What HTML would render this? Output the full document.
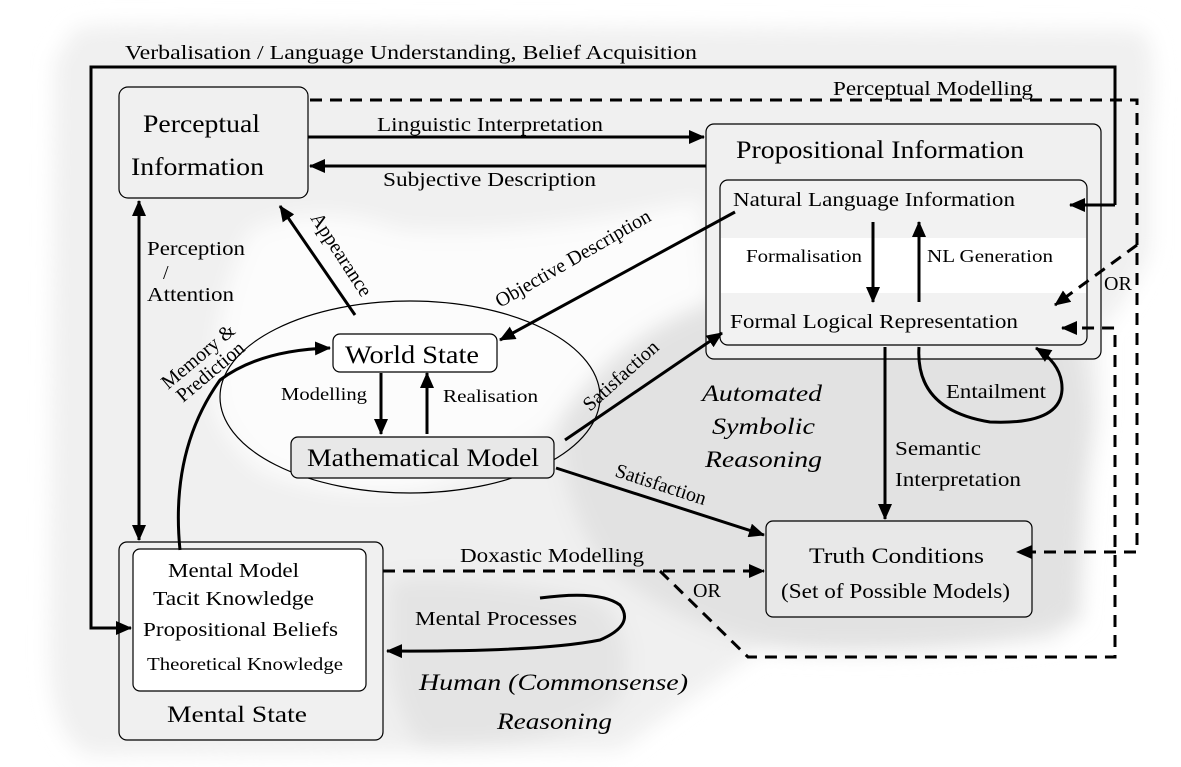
<!DOCTYPE html>
<html><head><meta charset="utf-8"><style>
html,body{margin:0;padding:0;background:#fff;}
svg{display:block;}
text{font-family:"Liberation Serif","DejaVu Serif",serif;}
</style></head><body>
<svg width="1181" height="767" viewBox="0 0 1181 767" xmlns="http://www.w3.org/2000/svg" font-family="Liberation Serif, DejaVu Serif, serif">
<defs>
<marker id="b" markerWidth="16" markerHeight="14" refX="15" refY="7" orient="auto" markerUnits="userSpaceOnUse" viewBox="0 0 16 14"><path d="M0,0 L16,7 L0,14 z" fill="#000"/></marker>
<filter id="blur"><feGaussianBlur stdDeviation="10"/></filter>
</defs>
<g filter="url(#blur)">
<path d="M70,40 Q60,25 120,25 L1140,30 Q1160,40 1150,140 L1150,250 Q1130,300 1100,330 L1100,420 Q1090,470 1080,520 L1060,640 Q900,660 760,650 Q660,720 620,750 L90,755 Q50,740 50,650 L55,60 Z" fill="#f0f0f0"/>
<path d="M250,230 Q320,200 400,230 Q520,240 700,200 L710,300 Q620,360 560,420 Q500,470 420,490 Q330,500 260,470 Q200,420 215,360 Q220,290 250,230 Z" fill="#fcfcfc"/>
<path d="M560,420 Q620,330 720,300 L1050,300 Q1085,330 1090,420 L1080,620 Q1000,650 830,650 Q700,650 600,560 Q560,500 560,420 Z" fill="#e2e2e2"/>
<path d="M390,580 Q460,570 600,600 Q640,640 620,700 Q560,750 420,745 Q380,700 390,580 Z" fill="#e4e4e4"/>
</g>
<g fill="none" stroke="#000">
<rect x="119" y="87" width="189" height="111" rx="9" fill="#f0f0f0" stroke-width="1.2"/>
<rect x="706" y="124" width="395" height="235" rx="8" fill="#f0f0f0" stroke-width="1.2"/>
<rect x="720" y="180" width="367" height="165" rx="8" fill="#f2f2f2" stroke-width="1.2"/>
<rect x="721" y="238" width="365" height="55" fill="#fff" stroke="none"/>
<ellipse cx="410" cy="397" rx="190" ry="96" stroke-width="1.2"/>
<rect x="333" y="334" width="164" height="38" rx="7" fill="#fff" stroke-width="1.2"/>
<rect x="291" y="437" width="263" height="41" rx="7" fill="#e8e8e8" stroke-width="1.2"/>
<rect x="766" y="521" width="266" height="96" rx="7" fill="#e8e8e8" stroke-width="1.2"/>
<rect x="119" y="542" width="264" height="198" rx="8" fill="#f0f0f0" stroke-width="1.2"/>
<rect x="133" y="549" width="233" height="142" rx="7" fill="#fff" stroke-width="1.2"/>
<g stroke-width="3">
<path d="M1115,205 L1115,67 L91,67 L91,628 L131,628" marker-end="url(#b)"/>
<path d="M1115,205 L1070,205" marker-end="url(#b)"/>
<path d="M308,137 L704,137" marker-end="url(#b)"/>
<path d="M706,166 L310,166" marker-end="url(#b)"/>
<path d="M139,350 L139,201" marker-end="url(#b)"/>
<path d="M139,350 L139,540" marker-end="url(#b)"/>
<path d="M355,315 L280,206" marker-end="url(#b)"/>
<path d="M735,212 L500,340" marker-end="url(#b)"/>
<path d="M873,222 L873,302" marker-end="url(#b)"/>
<path d="M919,302 L919,222" marker-end="url(#b)"/>
<path d="M381,373 L381,434" marker-end="url(#b)"/>
<path d="M427,434 L427,373" marker-end="url(#b)"/>
<path d="M565,440 L722,333" marker-end="url(#b)"/>
<path d="M556,468 L764,535" marker-end="url(#b)"/>
<path d="M885,347 L885,519" marker-end="url(#b)"/>
<path d="M919,347 Q915,410 990,422 Q1060,425 1062,390 Q1063,365 1036,348" marker-end="url(#b)"/>
<path d="M180,550 Q170,450 220,380 Q260,350 330,348" marker-end="url(#b)"/>
<path d="M540,598 Q600,590 620,605 Q635,625 600,640 Q540,652 387,651" marker-end="url(#b)"/>
</g>
<g stroke-width="3" stroke-dasharray="12,8">
<path d="M310,100 L1137,100 L1137,552 L1017,552" marker-end="url(#b)"/>
<path d="M1137,245 L1055,305" marker-end="url(#b)"/>
<path d="M660,571 L748,657 L1115,657 L1115,328 L1062,328" marker-end="url(#b)"/>
<path d="M383,571 L764,571" marker-end="url(#b)"/>
</g>
</g>
<g font-size="20" fill="#000" lengthAdjust="spacingAndGlyphs">
<text x="125" y="59" textLength="572" lengthAdjust="spacingAndGlyphs">Verbalisation  /  Language Understanding, Belief Acquisition</text>
<text x="833" y="95" textLength="200" lengthAdjust="spacingAndGlyphs">Perceptual Modelling</text>
<text x="377" y="131" textLength="226" lengthAdjust="spacingAndGlyphs">Linguistic Interpretation</text>
<text x="383" y="186" textLength="213" lengthAdjust="spacingAndGlyphs">Subjective Description</text>
<text x="147" y="255" textLength="98" lengthAdjust="spacingAndGlyphs">Perception</text>
<text x="163" y="279">/</text>
<text x="147" y="301" textLength="87" lengthAdjust="spacingAndGlyphs">Attention</text>
<text x="1104" y="290">OR</text>
<text x="460" y="562" textLength="184" lengthAdjust="spacingAndGlyphs">Doxastic Modelling</text>
<text x="693" y="597">OR</text>
<text x="415" y="625" textLength="162" lengthAdjust="spacingAndGlyphs">Mental Processes</text>
<text x="946" y="398" textLength="100" lengthAdjust="spacingAndGlyphs">Entailment</text>
<text x="895" y="455" textLength="86" lengthAdjust="spacingAndGlyphs">Semantic</text>
<text x="895" y="486" textLength="126" lengthAdjust="spacingAndGlyphs">Interpretation</text>
<text x="281" y="400" font-size="18" textLength="86" lengthAdjust="spacingAndGlyphs">Modelling</text>
<text x="443" y="402" font-size="18" textLength="95" lengthAdjust="spacingAndGlyphs">Realisation</text>
<text x="733" y="206" textLength="282" lengthAdjust="spacingAndGlyphs">Natural Language Information</text>
<text x="746" y="262" font-size="18" textLength="116" lengthAdjust="spacingAndGlyphs">Formalisation</text>
<text x="927" y="262" font-size="18" textLength="126" lengthAdjust="spacingAndGlyphs">NL Generation</text>
<text x="730" y="328" textLength="288" lengthAdjust="spacingAndGlyphs">Formal Logical Representation</text>
<text x="168" y="577" textLength="131" lengthAdjust="spacingAndGlyphs">Mental Model</text>
<text x="153" y="605" textLength="161" lengthAdjust="spacingAndGlyphs">Tacit Knowledge</text>
<text x="143" y="636" textLength="195" lengthAdjust="spacingAndGlyphs">Propositional Beliefs</text>
<text x="147" y="670" font-size="18" textLength="196" lengthAdjust="spacingAndGlyphs">Theoretical Knowledge</text>
</g>
<g font-size="25" fill="#000">
<text x="143" y="132" textLength="117" lengthAdjust="spacingAndGlyphs">Perceptual</text>
<text x="131" y="175" textLength="133" lengthAdjust="spacingAndGlyphs">Information</text>
<text x="736" y="158" textLength="288" lengthAdjust="spacingAndGlyphs">Propositional Information</text>
<text x="345" y="363" textLength="134" lengthAdjust="spacingAndGlyphs">World State</text>
<text x="307" y="466" textLength="232" lengthAdjust="spacingAndGlyphs">Mathematical Model</text>
<text x="809" y="563" font-size="22" textLength="175" lengthAdjust="spacingAndGlyphs">Truth Conditions</text>
<text x="781" y="598" font-size="21" textLength="229" lengthAdjust="spacingAndGlyphs">(Set of Possible Models)</text>
<text x="167" y="722" font-size="23" textLength="140" lengthAdjust="spacingAndGlyphs">Mental State</text>
</g>
<g font-size="23" font-style="italic" fill="#000">
<text x="702" y="401" textLength="120" lengthAdjust="spacingAndGlyphs">Automated</text>
<text x="712" y="434" textLength="103" lengthAdjust="spacingAndGlyphs">Symbolic</text>
<text x="705" y="467" textLength="117" lengthAdjust="spacingAndGlyphs">Reasoning</text>
<text x="419" y="690" textLength="269" lengthAdjust="spacingAndGlyphs">Human (Commonsense)</text>
<text x="497" y="729" textLength="115" lengthAdjust="spacingAndGlyphs">Reasoning</text>
</g>
<g font-size="20" fill="#000">
<text transform="translate(310,218) rotate(57)">Appearance</text>
<text transform="translate(500,308) rotate(-30)">Objective Description</text>
<text transform="translate(168,390) rotate(-40)">Memory &amp;</text>
<text transform="translate(183,403) rotate(-40)">Prediction</text>
<text transform="translate(590,412) rotate(-42)">Satisfaction</text>
<text transform="translate(614,476) rotate(18)">Satisfaction</text>
</g>
</svg>
</body></html>
